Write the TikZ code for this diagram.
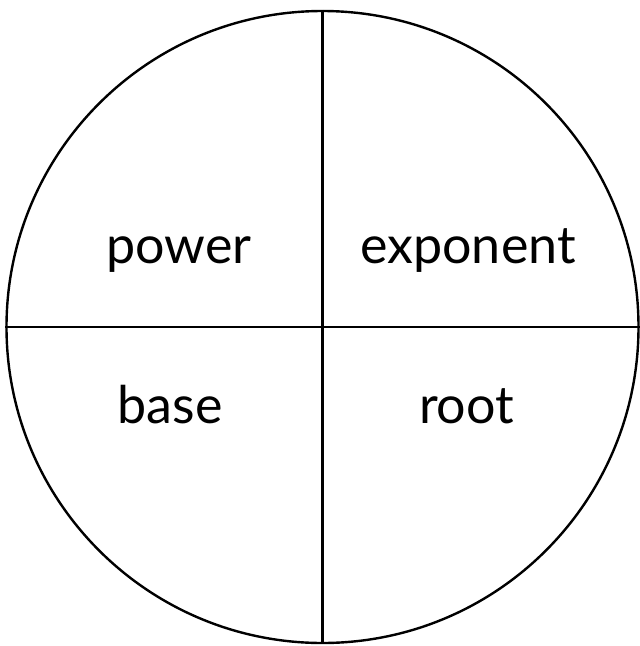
\documentclass[tikz,border=0pt]{standalone}
\usepackage{fontspec}
\setmainfont{Lato}
\begin{document}
\begin{tikzpicture}[x=1pt,y=-1pt,
  lbl/.style={anchor=base,inner sep=0pt,font=\fontsize{52}{60}\selectfont},
  rim/.style={draw=black,line width=2.4pt}]
\useasboundingbox (0,0) rectangle (640,646);
\node[circle,minimum size=632pt,inner sep=0pt,rim] (c) at (322.5,327) {};
\draw[rim] (c.north) -- (c.south);
\draw[rim] (c.west) -- (c.east);
\node[lbl] (power) at (179,263) {power};
\node[lbl] (exponent) at (468,263) {exponent};
\node[lbl] (base) at (170,423) {base};
\node[lbl] (root) at (466.5,423) {root};
\end{tikzpicture}
\end{document}
